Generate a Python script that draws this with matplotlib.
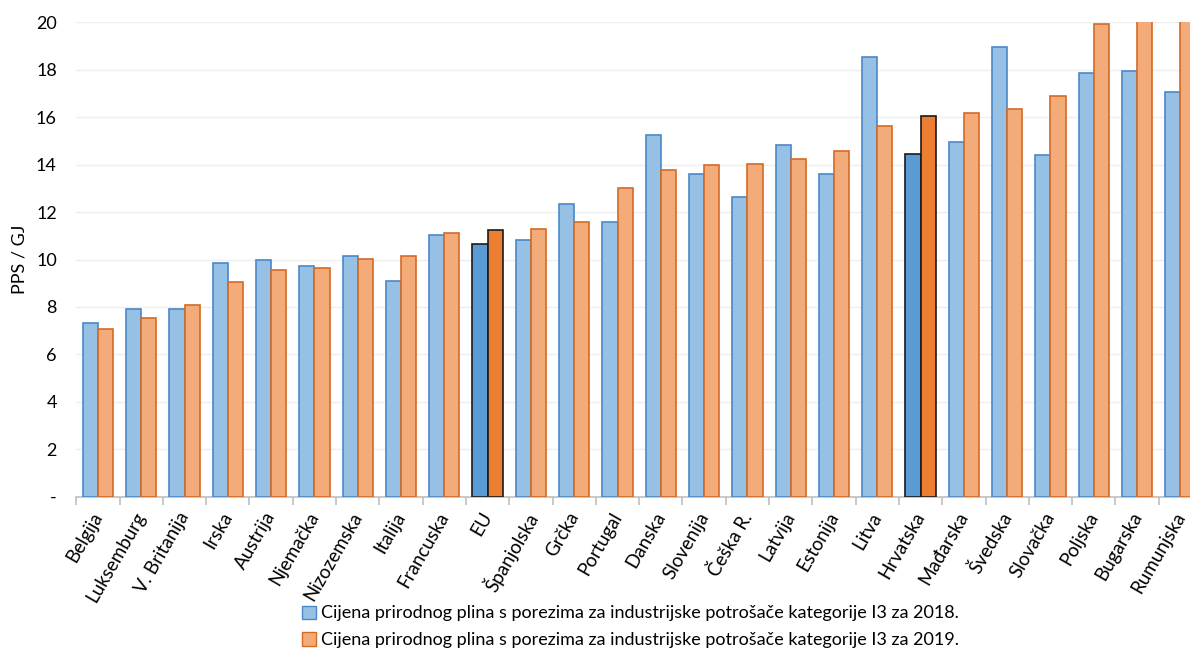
import matplotlib.pyplot as plt
import numpy as np
from matplotlib.patches import Patch
from matplotlib.transforms import ScaledTranslation

# podaci ocitani s grafa (PPS / GJ)
countries = ['Belgija', 'Luksemburg', 'V. Britanija', 'Irska', 'Austrija', 'Njemačka',
             'Nizozemska', 'Italija', 'Francuska', 'EU', 'Španjolska', 'Grčka', 'Portugal',
             'Danska', 'Slovenija', 'Češka R.', 'Latvija', 'Estonija', 'Litva', 'Hrvatska',
             'Mađarska', 'Švedska', 'Slovačka', 'Poljska', 'Bugarska', 'Rumunjska']
price_2018 = [7.34, 7.93, 7.93, 9.85, 9.97, 9.74, 10.16, 9.08, 11.05, 10.64, 10.82, 12.33, 11.58,
              15.24, 13.62, 12.62, 14.83, 13.60, 18.52, 14.46, 14.95, 18.97, 14.42, 17.85, 17.96, 17.07]
price_2019 = [7.08, 7.53, 8.08, 9.04, 9.54, 9.64, 10.03, 10.16, 11.10, 11.23, 11.30, 11.58, 13.00,
              13.77, 13.97, 14.01, 14.22, 14.56, 15.63, 16.05, 16.19, 16.36, 16.88, 19.95, 20.60, 21.00]
highlight = ['EU', 'Hrvatska']
yticks = [0, 2, 4, 6, 8, 10, 12, 14, 16, 18, 20]
ytick_labels = ['-', '2', '4', '6', '8', '10', '12', '14', '16', '18', '20']
legend_labels = ['Cijena prirodnog plina s porezima za industrijske potrošače kategorije I3 za 2018.',
                 'Cijena prirodnog plina s porezima za industrijske potrošače kategorije I3 za 2019.']

plt.rcParams['font.family'] = ['Lato', 'DejaVu Sans']

blue_fill, blue_edge = '#97c0e5', '#4a88c8'
orange_fill, orange_edge = '#f3ab79', '#d46b25'
blue_dark, orange_dark = '#5b9bd5', '#ed7d31'

fig = plt.figure(figsize=(11.9, 6.53), dpi=100)
ax = fig.add_axes([0.0641, 0.2394, 0.946, 0.7264])

x = np.arange(len(countries))
w = 0.35
for i, c in enumerate(countries):
    if c in highlight:
        fb, eb, fo, eo = blue_dark, '#1a1a1a', orange_dark, '#1a1a1a'
    else:
        fb, eb, fo, eo = blue_fill, blue_edge, orange_fill, orange_edge
    ax.bar(x[i] - w / 2, price_2018[i], w, color=fb, edgecolor=eb, linewidth=1.2, zorder=3)
    ax.bar(x[i] + w / 2, price_2019[i], w, color=fo, edgecolor=eo, linewidth=1.2, zorder=3)

ax.set_xlim(-0.5, len(countries) - 0.5)
ax.set_ylim(0, 20)
ax.set_yticks(yticks)
ax.set_yticklabels(ytick_labels, fontsize=13)
ax.yaxis.grid(True, color='#efefef', linewidth=1)
ax.set_axisbelow(True)
ax.tick_params(axis='y', length=0, pad=14)
ax.set_ylabel('PPS / GJ', fontsize=13, labelpad=6)

ax.set_xticks(x)
ax.set_xticklabels(countries, rotation=60, ha='right', rotation_mode='anchor', fontsize=13.5)
ax.tick_params(axis='x', which='major', length=0, pad=9)
ax.set_xticks(np.arange(len(countries) + 1) - 0.5, minor=True)
ax.tick_params(axis='x', which='minor', length=6, color='#bfbfbf', width=1.2)
shift = ScaledTranslation(-7 / 100, 0, fig.dpi_scale_trans)
for lbl in ax.get_xticklabels():
    lbl.set_transform(lbl.get_transform() + shift)

for s in ['top', 'right', 'left']:
    ax.spines[s].set_visible(False)
ax.spines['bottom'].set_color('#bfbfbf')
ax.spines['bottom'].set_linewidth(1.2)

handles = [Patch(facecolor=blue_fill, edgecolor=blue_edge), Patch(facecolor=orange_fill, edgecolor=orange_edge)]
fig.legend(handles, legend_labels, loc='center', bbox_to_anchor=(0.53, 0.04), ncol=1, frameon=False,
           fontsize=13, handlelength=0.75, handleheight=0.75, handletextpad=0.3, labelspacing=0.6)

fig.savefig('out.png', dpi=100)
